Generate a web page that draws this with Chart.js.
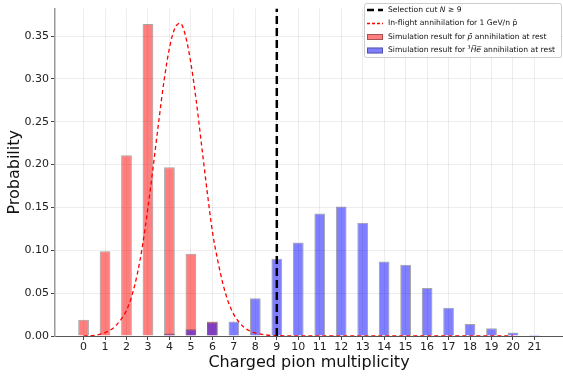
<!DOCTYPE html>
<html>
<head>
<meta charset="utf-8">
<script src="https://cdn.jsdelivr.net/npm/chart.js@4/dist/chart.umd.min.js"></script>
<style>
  html, body { margin: 0; padding: 0; background: #fff; }
  #wrap { width: 563px; height: 376px; position: relative; }
</style>
</head>
<body>
<div id="wrap"><canvas id="chart"></canvas></div>
<script>
const multiplicity = [0, 1, 2, 3, 4, 5, 6, 7, 8, 9, 10, 11, 12, 13, 14, 15, 16, 17, 18, 19, 20, 21]

// p-bar annihilation at rest (red bars)
const pbarAtRest = [0.019, 0.099, 0.211, 0.364, 0.197, 0.096, 0.017, 0.001, null, null, null,
  null, null, null, null, null, null, null, null, null, null, null]

// 3He-bar annihilation at rest (blue bars)
const heAtRest = [null, null, null, null, 0.003, 0.008, 0.016, 0.017, 0.044, 0.090, 0.109,
  0.143, 0.151, 0.132, 0.087, 0.083, 0.056, 0.033, 0.014, 0.009, 0.004, 0.0015]

// in-flight annihilation curve
const inflightX = [0, 0.25, 0.5, 0.75, 1, 1.25, 1.5, 1.75, 2, 2.25, 2.5, 2.75, 3, 3.25, 3.5, 3.75,
  4, 4.25, 4.5, 4.75, 5, 5.25, 5.5, 5.75, 6, 6.25, 6.5, 6.75, 7, 7.25, 7.5, 7.75, 8, 8.5, 9, 10,
  11, 12, 13, 14, 15, 16, 17, 18, 19, 20]
const inflightY = [0.0002, 0.0004, 0.0008, 0.0018, 0.004, 0.007, 0.012, 0.0195, 0.030, 0.047,
  0.072, 0.106, 0.150, 0.199, 0.250, 0.298, 0.336, 0.359, 0.365, 0.350, 0.318, 0.274, 0.222,
  0.170, 0.122, 0.088, 0.060, 0.039, 0.025, 0.016, 0.0095, 0.0058, 0.0035, 0.0012, 0.0004,
  0.0001, 0, 0, 0, 0, 0, 0, 0, 0, 0, 0]

const selectionCut = 9
const yTicks = [0, 0.05, 0.10, 0.15, 0.20, 0.25, 0.30, 0.35]

const legendItems = [
  { kind: 'cut', parts: [['Selection cut ', false], ['N', true], [' \u2265 9', false]] },
  { kind: 'curve', parts: [['In-flight annihilation for 1 GeV/n p\u0304', false]] },
  { kind: 'red', parts: [['Simulation result for ', false], ['p\u0304', true], [' annihilation at rest', false]] },
  { kind: 'blue', parts: [['Simulation result for ', false], ['\u00b3', false], ['H\u0305e\u0305', true], [' annihilation at rest', false]] },
]

const RED = 'rgba(255, 0, 0, 0.5)'
const BLUE = 'rgba(0, 0, 255, 0.5)'
const EDGE = 'rgba(0, 0, 0, 0.35)'
const FONT = 'DejaVu Sans'

const legendBox = {
  id: 'legendBox',
  afterDraw(chart) {
    const ctx = chart.ctx
    const x0 = 364, y0 = 3, w = 197, h = 54
    ctx.save()
    ctx.fillStyle = 'rgba(255,255,255,0.85)'
    ctx.strokeStyle = '#cccccc'
    ctx.lineWidth = 1
    ctx.beginPath()
    ctx.roundRect(x0 + 0.5, y0 + 0.5, w, h, 2)
    ctx.fill()
    ctx.stroke()

    legendItems.forEach((item, i) => {
      const y = 10 + i * 13.5
      const mx = 367
      ctx.setLineDash([])
      if (item.kind === 'cut') {
        ctx.strokeStyle = '#000'
        ctx.lineWidth = 2.5
        ctx.setLineDash([7, 4])
        ctx.beginPath(); ctx.moveTo(mx, y); ctx.lineTo(mx + 16, y); ctx.stroke()
      } else if (item.kind === 'curve') {
        ctx.strokeStyle = '#ff0000'
        ctx.lineWidth = 1.3
        ctx.setLineDash([3, 2])
        ctx.beginPath(); ctx.moveTo(mx, y); ctx.lineTo(mx + 16, y); ctx.stroke()
      } else {
        ctx.fillStyle = item.kind === 'red' ? RED : BLUE
        ctx.fillRect(mx, y - 3, 16, 6)
        ctx.strokeStyle = EDGE
        ctx.lineWidth = 1
        ctx.strokeRect(mx + 0.5, y - 2.5, 15, 5)
      }
      ctx.setLineDash([])
      let tx = 388
      ctx.fillStyle = '#111'
      ctx.textBaseline = 'middle'
      for (const [text, italic] of item.parts) {
        ctx.font = (italic ? 'italic ' : '') + '7.6px "' + FONT + '"'
        const dy = text === '\u00b3' ? -1 : 0
        ctx.fillText(text, tx, y + dy)
        tx += ctx.measureText(text).width
      }
    })
    ctx.restore()
  },
}

new Chart(document.getElementById('chart'), {
  type: 'bar',
  data: {
    datasets: [
      {
        type: 'line',
        data: [{ x: selectionCut, y: 0 }, { x: selectionCut, y: 0.382 }],
        borderColor: '#000',
        borderWidth: 2.5,
        borderDash: [8, 4],
        pointRadius: 0,
        order: 1,
      },
      {
        type: 'line',
        data: inflightX.map((x, i) => ({ x, y: inflightY[i] })),
        borderColor: '#ff0000',
        borderWidth: 1.3,
        borderDash: [4, 3],
        pointRadius: 0,
        cubicInterpolationMode: 'monotone',
        order: 2,
      },
      {
        data: multiplicity.map((m, i) => ({ x: m, y: heAtRest[i] })),
        backgroundColor: BLUE,
        borderColor: EDGE,
        borderWidth: 1,
        barPercentage: 0.5,
        categoryPercentage: 1,
        grouped: false,
        order: 3,
      },
      {
        data: multiplicity.map((m, i) => ({ x: m, y: pbarAtRest[i] })),
        backgroundColor: RED,
        borderColor: EDGE,
        borderWidth: 1,
        barPercentage: 0.5,
        categoryPercentage: 1,
        grouped: false,
        order: 4,
      },
    ],
  },
  options: {
    responsive: true,
    maintainAspectRatio: false,
    animation: false,
    layout: { padding: 0 },
    plugins: {
      legend: { display: false },
      tooltip: { enabled: false },
    },
    scales: {
      x: {
        type: 'linear',
        offset: false,
        min: -1.33,
        max: 22.33,
        afterBuildTicks: (scale) => { scale.ticks = multiplicity.map((v) => ({ value: v })) },
        afterFit: (scale) => { scale.height = 40 },
        ticks: { font: { family: FONT, size: 11 }, color: '#222', padding: 1, maxRotation: 0, autoSkip: false },
        grid: { offset: false, color: 'rgba(0,0,0,0.07)', tickLength: 4, tickColor: '#444' },
        border: { color: '#555', width: 1 },
        title: { display: true, text: 'Charged pion multiplicity', font: { family: FONT, size: 16 }, color: '#111', padding: { top: 0, bottom: 4 } },
      },
      y: {
        min: 0,
        max: 0.382,
        afterBuildTicks: (scale) => { scale.ticks = yTicks.map((v) => ({ value: v })) },
        afterFit: (scale) => { scale.width = 55 },
        ticks: { font: { family: FONT, size: 11 }, color: '#222', padding: 2, callback: (v) => v.toFixed(2) },
        grid: { color: 'rgba(0,0,0,0.07)', tickLength: 4, tickColor: '#444' },
        border: { color: '#999', width: 1.5 },
        title: { display: true, text: 'Probability', font: { family: FONT, size: 16 }, color: '#111', padding: { top: 5, bottom: 0 } },
      },
    },
  },
  plugins: [legendBox],
})
</script>
</body>
</html>
